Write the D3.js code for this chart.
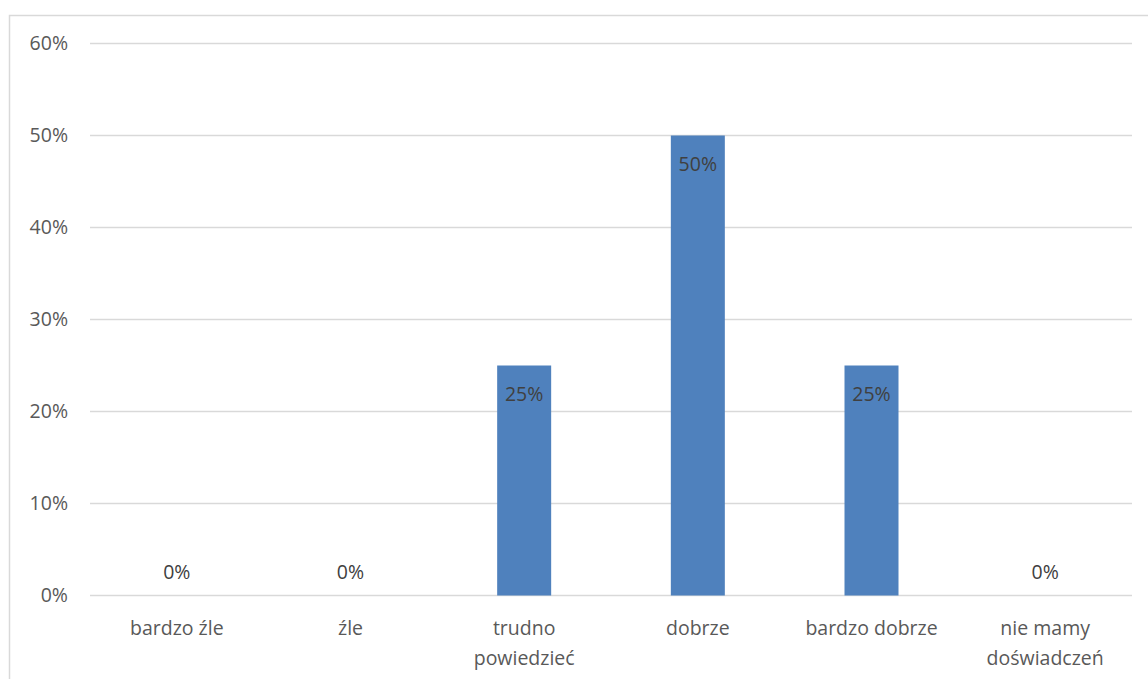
<!DOCTYPE html>
<html>
<head>
<meta charset="utf-8">
<script src="https://cdn.jsdelivr.net/npm/d3@7"></script>
<style>
  body { margin: 0; background: #fff; }
  svg { display: block; font-family: "Open Sans", "DejaVu Sans", sans-serif; }
</style>
</head>
<body>
<svg width="1148" height="679"></svg>
<script>
const categories = ["bardzo źle", "źle", "trudno powiedzieć", "dobrze", "bardzo dobrze", "nie mamy doświadczeń"];
const categoryLines = [["bardzo źle"], ["źle"], ["trudno", "powiedzieć"], ["dobrze"], ["bardzo dobrze"], ["nie mamy", "doświadczeń"]];
const values = [0, 0, 0.25, 0.5, 0.25, 0];
const yTicks = [0, 0.1, 0.2, 0.3, 0.4, 0.5, 0.6];

const svg = d3.select("svg");
const width = +svg.attr("width");
const height = +svg.attr("height");
const fontSize = 19.5;

// chart area border: only the left and top edges are in the picture
svg.append("path")
  .attr("d", `M9.5,${height} V15.5 H${width}`)
  .attr("fill", "none").attr("stroke", "#d9d9d9").attr("stroke-width", 1.5);

const margin = { top: 43.5, right: 16, bottom: 83.5, left: 90 };
const innerWidth = width - margin.left - margin.right;
const innerHeight = height - margin.top - margin.bottom;

const g = svg.append("g").attr("transform", `translate(${margin.left},${margin.top})`);

const xScale = d3.scaleBand().domain(categories).range([0, innerWidth]);
const yScale = d3.scaleLinear().domain([0, 0.6]).range([innerHeight, 0]);
const barWidth = 54;

// gridlines
g.selectAll(".grid")
  .data(yTicks)
  .enter()
  .append("line")
  .attr("x1", 0).attr("x2", innerWidth)
  .attr("y1", (d) => yScale(d)).attr("y2", (d) => yScale(d))
  .attr("stroke", "#d9d9d9").attr("stroke-width", 1.5);

// y axis labels
const yAxis = g.append("g")
  .call(d3.axisLeft(yScale).tickValues(yTicks).tickFormat(d3.format(".0%")).tickSize(0).tickPadding(22))
  .attr("font-family", "'Open Sans', sans-serif")
  .attr("font-size", fontSize);
yAxis.select(".domain").remove();
yAxis.selectAll("text").attr("fill", "#595959");

// bars
g.selectAll(".bar")
  .data(values)
  .enter()
  .append("rect")
  .attr("x", (d, i) => xScale(categories[i]) + xScale.bandwidth() / 2 - barWidth / 2)
  .attr("y", (d) => yScale(d))
  .attr("width", barWidth)
  .attr("height", (d) => innerHeight - yScale(d))
  .attr("fill", "#4f81bd");

// data labels
g.selectAll(".lbl")
  .data(values)
  .enter()
  .append("text")
  .attr("x", (d, i) => xScale(categories[i]) + xScale.bandwidth() / 2)
  .attr("y", (d) => (d > 0 ? yScale(d) + 35 : yScale(d) - 17))
  .attr("text-anchor", "middle")
  .attr("font-size", fontSize)
  .attr("fill", "#404040")
  .text((d) => d3.format(".0%")(d));

// x labels
const xl = g.selectAll(".xl")
  .data(categoryLines)
  .enter()
  .append("text")
  .attr("text-anchor", "middle")
  .attr("font-size", fontSize)
  .attr("fill", "#595959")
  .attr("transform", (d, i) => `translate(${xScale(categories[i]) + xScale.bandwidth() / 2},${innerHeight + 39})`);
xl.selectAll("tspan")
  .data((d) => d)
  .enter()
  .append("tspan")
  .attr("x", 0)
  .attr("dy", (d, i) => (i === 0 ? 0 : 30))
  .text((d) => d);
</script>
</body>
</html>
